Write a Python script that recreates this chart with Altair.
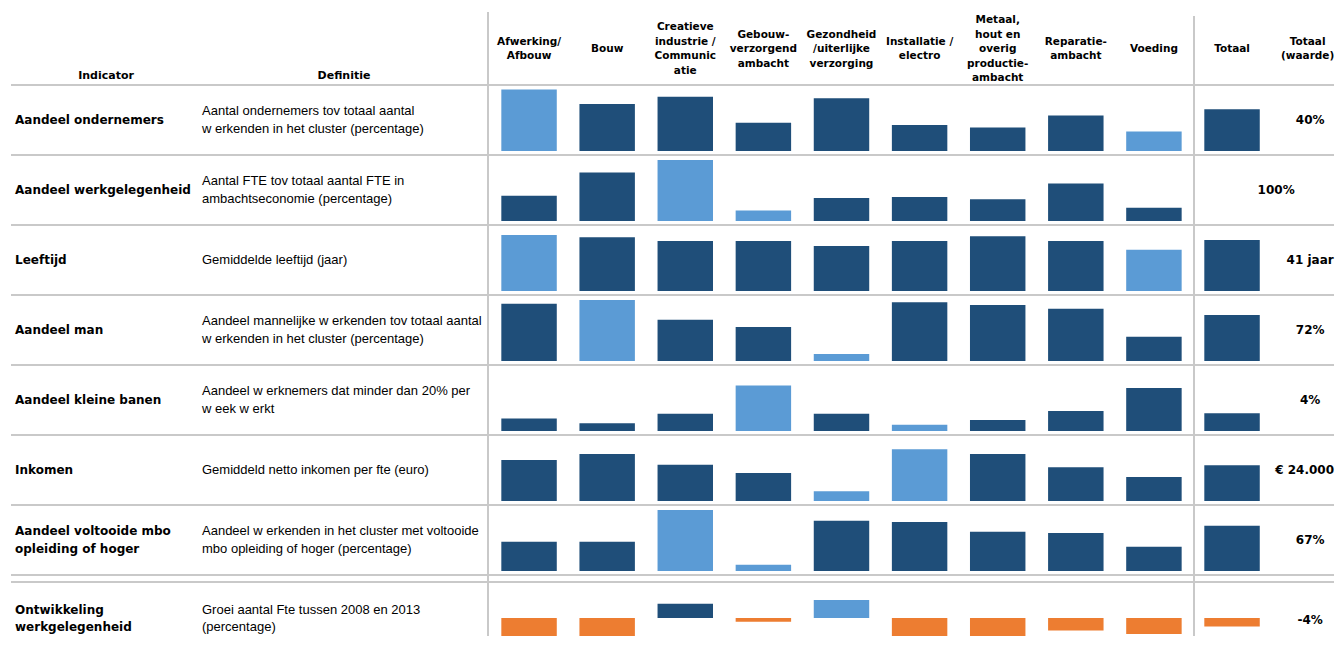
import altair as alt
import pandas as pd

# ---------------- data ----------------
clusters = [
    "Afwerking/Afbouw", "Bouw", "Creatieve industrie / Communicatie",
    "Gebouw-verzorgend ambacht", "Gezondheid /uiterlijke verzorging",
    "Installatie / electro", "Metaal, hout en overig productie-ambacht",
    "Reparatie-ambacht", "Voeding",
]
total_col = "Totaal"
value_col = "Totaal (waarde)"

header_labels = [
    "Afwerking/\nAfbouw", "Bouw", "Creatieve\nindustrie /\nCommunic\natie",
    "Gebouw-\nverzorgend\nambacht", "Gezondheid\n/uiterlijke\nverzorging",
    "Installatie /\nelectro", "Metaal,\nhout en\noverig\nproductie-\nambacht",
    "Reparatie-\nambacht", "Voeding", "Totaal", "Totaal\n(waarde)",
]

indicators = [
    "Aandeel ondernemers", "Aandeel werkgelegenheid", "Leeftijd", "Aandeel man",
    "Aandeel kleine banen", "Inkomen", "Aandeel voltooide mbo\nopleiding of hoger",
    "Ontwikkeling\nwerkgelegenheid",
]
definitions = [
    "Aantal ondernemers tov totaal aantal\nw erkenden in het cluster (percentage)",
    "Aantal FTE tov totaal aantal FTE in\nambachtseconomie (percentage)",
    "Gemiddelde leeftijd (jaar)",
    "Aandeel mannelijke w erkenden tov totaal aantal\nw erkenden in het cluster (percentage)",
    "Aandeel w erknemers dat minder dan 20% per\nw eek w erkt",
    "Gemiddeld netto inkomen per fte (euro)",
    "Aandeel w erkenden in het cluster met voltooide\nmbo opleiding of hoger (percentage)",
    "Groei aantal Fte tussen 2008 en 2013\n(percentage)",
]
total_texts = ["40%", "100%", "41 jaar", "72%", "4%", "\u20ac 24.000", "67%", "-4%"]

# values: 9 clusters + Totaal
v_ondernemers = [59, 45, 52, 27, 50.6, 25, 22.5, 34, 18.7, 40]
v_werkgelegenheid = [9.5, 18.3, 23, 4, 8.7, 9.1, 8.2, 14.2, 5, None]
v_leeftijd = [45, 43.2, 40.2, 40.2, 36.2, 40.2, 44, 40.2, 33.2, 41]
v_man = [89.7, 95.5, 64.6, 53.2, 11, 91.9, 87.6, 81.9, 38, 72]
v_kleine_banen = [2.8, 1.75, 3.9, 10.3, 3.9, 1.4, 2.5, 4.5, 9.7, 4]
v_inkomen = [27570, 31600, 24400, 18830, 6520, 34770, 31600, 22660, 16140, 24000]
v_mbo = [43.3, 43.3, 90.2, 9.3, 74.4, 72.5, 58.1, 56.2, 35.9, 67]
v_ontwikkeling = [-10.6, -10.6, 6.8, -1.8, 8.6, -10, -12.4, -5.9, -7.6, -4]

row_values = [v_ondernemers, v_werkgelegenheid, v_leeftijd, v_man,
              v_kleine_banen, v_inkomen, v_mbo, v_ontwikkeling]

# ---------------- layout / style ----------------
W = 1327
HEAD_H = 77
ROW_H = 70
LAST_H = 61
LAST_ZERO = 43      # pixel row of the zero line inside the last row
LAST_PX = 2.1       # pixels per percent in the last row
LINE = "#c9c9c9"
DARK, LIGHT, ORANGE = "#1f4e79", "#5b9bd5", "#ed7d31"
BOLD = dict(font="DejaVu Sans", fontWeight="bold", color="black")
HEAD_LH = 14.5
ROW_LH = 17.5
VALUE_DX = [0, -34, 0, 0, 0, -5.5, 0, 0]

# scale domain of each row's little bar chart
row_domains = [[0, 59.5], [0, 23.4], [0, 49.8], [0, 97], [0, 14],
               [0, 41680], [0, 91.7],
               [-(LAST_H - LAST_ZERO) / LAST_PX, LAST_ZERO / LAST_PX]]

cols = clusters + [total_col, value_col]
xscale = alt.Scale(type="band", domain=cols, range=[482, 1341.2],
                   paddingInner=0.29, paddingOuter=0.145)
one = pd.DataFrame({"a": [0]})


def hline(y):
    return alt.Chart(one).mark_rule(color=LINE, strokeWidth=2).encode(
        x=alt.value(3), x2=alt.value(W - 1), y=alt.value(y))


def vline(x, y0, y1):
    return alt.Chart(one).mark_rule(color=LINE, strokeWidth=2).encode(
        x=alt.value(x), y=alt.value(y0), y2=alt.value(y1))


def nlines(s):
    return s.count("\n") + 1


# header
hdr = pd.DataFrame({"col": cols, "label": header_labels})
hdr["n"] = hdr["label"].map(nlines)
hdr["grp"] = hdr["n"].astype(str) + hdr["col"].eq(value_col).map({True: "v", False: ""})
head_layers = [vline(480, 4, HEAD_H), vline(1186, 8, HEAD_H)]
for g, sub in hdr.groupby("grp"):
    n = int(sub["n"].iloc[0])
    head_layers.append(
        alt.Chart(sub).mark_text(fontSize=10.5, lineBreak="\n", lineHeight=HEAD_LH,
                                 baseline="middle", align="center",
                                 dx=-2.5 if g.endswith("v") else 0,
                                 dy=-(n - 1) * HEAD_LH / 2, **BOLD).encode(
            x=alt.X("col:N", scale=xscale, axis=None), y=alt.value(41),
            text="label:N"))
head_layers += [
    alt.Chart(pd.DataFrame({"t": ["Indicator"]})).mark_text(
        fontSize=11, baseline="middle", align="center", **BOLD).encode(
        x=alt.value(98), y=alt.value(68), text="t:N"),
    alt.Chart(pd.DataFrame({"t": ["Definitie"]})).mark_text(
        fontSize=11, baseline="middle", align="center", **BOLD).encode(
        x=alt.value(336), y=alt.value(68), text="t:N"),
]
header = alt.layer(*head_layers).properties(width=W, height=HEAD_H)

rows = []
for i in range(8):
    last = i == 7
    h = LAST_H if last else ROW_H
    ty = 43.5 if last else 35
    df = pd.DataFrame({"col": clusters + [total_col], "v": row_values[i]}).dropna()
    cl = df[df["col"] != total_col]["v"]
    vmax, vmin = cl.max(), cl.min()

    def cat(r):
        if r["v"] < 0:
            return "neg"
        if r["col"] != total_col and (r["v"] == vmax or r["v"] == vmin):
            return "hi"
        return "base"

    df["cat"] = df.apply(cat, axis=1)
    yrange = [LAST_H, 0] if last else [66, 4]

    layers = [hline(0)]
    if last:
        layers.append(hline(7))
    layers += [vline(480, 0, h), vline(1186, 0, h)]
    ni = nlines(indicators[i])
    layers.append(alt.Chart(pd.DataFrame({"t": [indicators[i]]})).mark_text(
        fontSize=12, align="left", baseline="middle", lineBreak="\n",
        lineHeight=ROW_LH, dy=-(ni - 1) * ROW_LH / 2, **BOLD).encode(
        x=alt.value(7), y=alt.value(ty), text="t:N"))
    nd = nlines(definitions[i])
    layers.append(alt.Chart(pd.DataFrame({"t": [definitions[i]]})).mark_text(
        font="Liberation Sans", fontSize=13, align="left", baseline="middle",
        lineBreak="\n", lineHeight=ROW_LH, dy=-(nd - 1) * ROW_LH / 2,
        color="black").encode(x=alt.value(194), y=alt.value(ty), text="t:N"))
    layers.append(alt.Chart(df).mark_bar(clip=True).encode(
        x=alt.X("col:N", scale=xscale, axis=None),
        y=alt.Y("v:Q", scale=alt.Scale(domain=row_domains[i], range=yrange,
                                       nice=False), axis=None),
        color=alt.Color("cat:N", scale=alt.Scale(domain=["base", "hi", "neg"],
                                                 range=[DARK, LIGHT, ORANGE]),
                        legend=None)))
    layers.append(alt.Chart(pd.DataFrame({"col": [value_col], "t": [total_texts[i]]}))
                  .mark_text(fontSize=12, baseline="middle", align="center",
                             dx=VALUE_DX[i], **BOLD)
                  .encode(x=alt.X("col:N", scale=xscale, axis=None),
                          y=alt.value(ty + 1 if last else ty), text="t:N"))
    rows.append(alt.layer(*layers).properties(width=W, height=h))

chart = alt.vconcat(header, *rows, spacing=0, bounds="flush", padding=0,
                    background="white").configure_view(stroke=None)

chart.save("out.html", embed_options={"renderer": "svg", "actions": False})
